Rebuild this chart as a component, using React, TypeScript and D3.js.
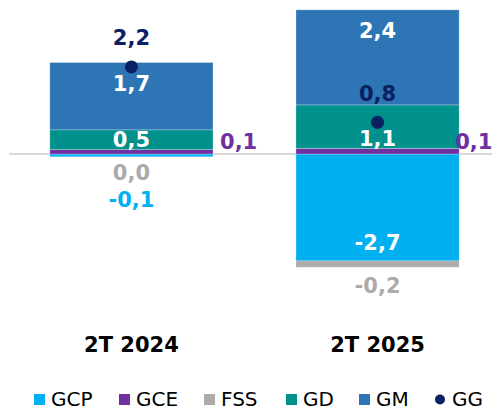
import React from "react";
import * as d3 from "d3";

const categories = ["2T 2024", "2T 2025"];
const GCP = [-0.07, -2.7];
const GCE = [0.11, 0.14];
const FSS = [0.0, -0.16];
const GD = [0.5, 1.1];
const GM = [1.7, 2.4];
const GG = [2.2, 0.8];

const seriesKeys = ["GCP", "GCE", "FSS", "GD", "GM"];
const seriesValues: Record<string, number[]> = { GCP, GCE, FSS, GD, GM };
const colors: Record<string, string> = {
  GCP: "#00B0F0",
  GCE: "#7030A0",
  FSS: "#AEAAAA",
  GD: "#00918C",
  GM: "#2E75B6",
  GG: "#0B2060",
};
const legendItems = ["GCP", "GCE", "FSS", "GD", "GM", "GG"];
const legendX = [34, 119, 204, 286, 359, 435];
const gceDx = [7, -4];

const W = 492;
const H = 410;
const FONT = "'DejaVu Sans', Verdana, sans-serif";
const fmt = (v: number) => {
  const r = Math.round(v * 10) / 10;
  return (Object.is(r, -0) ? 0 : r).toFixed(1).replace(".", ",");
};

export default function App() {
  const x = d3.scaleBand<string>().domain(categories).range([8, 501]).paddingInner(0.337).paddingOuter(0.17);
  const y = d3.scaleLinear().domain([-4, 4]).range([154 + 4 * 39.6, 154 - 4 * 39.6]);

  const table = categories.map((c, i) => {
    const row: any = { cat: c };
    seriesKeys.forEach((k) => (row[k] = seriesValues[k][i]));
    return row;
  });
  const stacked = d3.stack<any>().keys(seriesKeys).offset(d3.stackOffsetDiverging)(table);

  const labels: React.ReactNode[] = [];
  categories.forEach((c, i) => {
    const bx = x(c)!;
    const bw = x.bandwidth();
    const cx = bx + bw / 2;
    const seg = (k: string) => stacked.find((s) => s.key === k)![i];
    const stackMin = d3.min(stacked, (s) => Math.min(s[i][0], s[i][1]))!;
    const gm = seg("GM");
    labels.push(<text key={`gm${i}`} x={cx} y={y(gm[1]) + 21} dy="0.36em" fill="#fff">{fmt(GM[i])}</text>);
    const gd = seg("GD");
    labels.push(<text key={`gd${i}`} x={cx} y={y(gd[0]) - 10.5} dy="0.36em" fill="#fff">{fmt(GD[i])}</text>);
    labels.push(
      <text key={`gce${i}`} x={bx + bw + gceDx[i]} y={y(0) - 13} dy="0.36em" textAnchor="start" fill={colors.GCE}>{fmt(GCE[i])}</text>
    );
    const fss = seg("FSS");
    labels.push(<text key={`fss${i}`} x={cx} y={y(Math.min(fss[0], fss[1])) + 18} dy="0.36em" fill={colors.FSS}>{fmt(FSS[i])}</text>);
    const gcp = seg("GCP");
    const gcpH = Math.abs(y(gcp[0]) - y(gcp[1]));
    if (gcpH > 25) {
      labels.push(<text key={`gcp${i}`} x={cx} y={y(Math.min(gcp[0], gcp[1])) - 18} dy="0.36em" fill="#fff">{fmt(GCP[i])}</text>);
    } else {
      labels.push(<text key={`gcp${i}`} x={cx} y={y(stackMin) + 43} dy="0.36em" fill={colors.GCP}>{fmt(GCP[i])}</text>);
    }
    labels.push(<text key={`gg${i}`} x={cx} y={y(GG[i]) - 29} dy="0.36em" fill={colors.GG}>{fmt(GG[i])}</text>);
  });

  return (
    <svg width={W} height={H} style={{ position: "absolute", left: 0, top: 0, background: "#fff" }} fontFamily={FONT}>
      <line x1={9} x2={W} y1={y(0)} y2={y(0)} stroke="#D9D9D9" strokeWidth={2} />
      {stacked.map((s) => (
        <g key={s.key} fill={colors[s.key]}>
          {s.map((d, i) => {
            const y0 = Math.min(y(d[0]), y(d[1]));
            const h = Math.abs(y(d[0]) - y(d[1]));
            if (h === 0) return null;
            return (
              <rect key={i} x={x(categories[i])} y={y0} width={x.bandwidth()} height={h} stroke="rgba(255,255,255,0.35)" strokeWidth={0.75} />
            );
          })}
        </g>
      ))}
      {categories.map((c, i) => (
        <circle key={c} cx={x(c)! + x.bandwidth() / 2} cy={y(GG[i])} r={6.5} fill={colors.GG} />
      ))}
      <g fontSize={21} fontWeight="bold" textAnchor="middle">
        {labels}
      </g>
      <g fontSize={21} fontWeight="bold" textAnchor="middle" fill="#000">
        {categories.map((c) => (
          <text key={c} x={x(c)! + x.bandwidth() / 2} y={351.5}>{c}</text>
        ))}
      </g>
      <g fontSize={20} fill="#000">
        {legendItems.map((k, i) => (
          <g key={k} transform={`translate(${legendX[i]},0)`}>
            {k === "GG" ? (
              <circle cx={5} cy={399.5} r={5} fill={colors.GG} />
            ) : (
              <rect x={0} y={394} width={11} height={11} fill={colors[k]} />
            )}
            <text x={17} y={406}>{k}</text>
          </g>
        ))}
      </g>
    </svg>
  );
}
